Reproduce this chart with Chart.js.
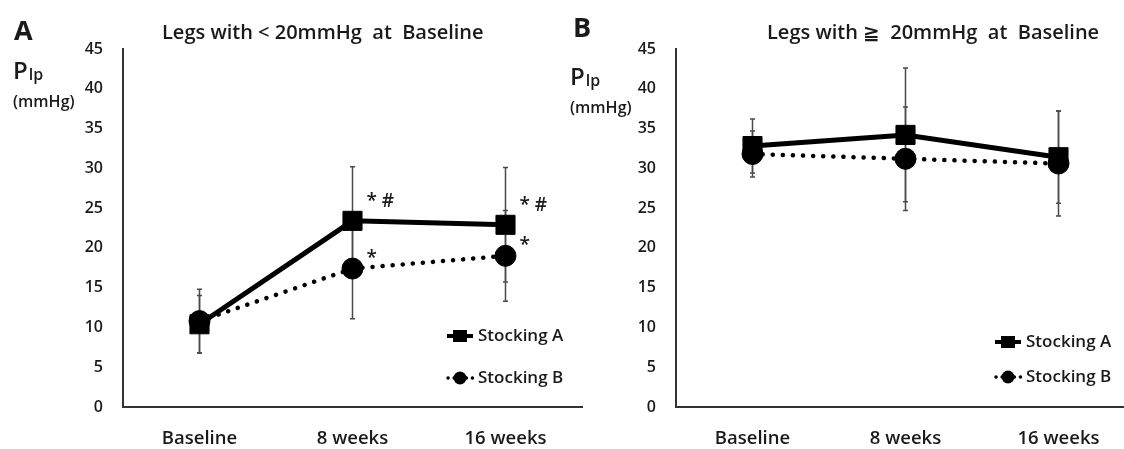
<!DOCTYPE html>
<html>
<head>
<meta charset="utf-8">
<script src="https://cdn.jsdelivr.net/npm/chart.js@4.4.1/dist/chart.umd.min.js"></script>
<style>
  html, body { margin: 0; padding: 0; background: #fff; overflow: hidden; width: 1124px; height: 449px; position: relative; }
  canvas { position: absolute; top: 0; }
  #chartA { left: 0; }
  #chartB { left: 560px; }
</style>
</head>
<body>
<canvas id="chartA" width="600" height="449"></canvas>
<canvas id="chartB" width="600" height="449"></canvas>
<script>
// shared
const categories = ['Baseline', '8 weeks', '16 weeks'];
const yTicks = [0, 5, 10, 15, 20, 25, 30, 35, 40, 45];
const seriesNames = ['Stocking A', 'Stocking B'];

// panel A: legs with < 20mmHg at baseline
const aMeanA = [10.4, 23.4, 22.9];
const aSdA = [3.6, 6.8, 7.2];
const aMeanB = [10.8, 17.4, 19.0];
const aSdB = [4.0, 6.3, 5.7];
const aMarksA = ['', '* #', '* #'];
const aMarksB = ['', '*', '*'];

// panel B: legs with >= 20mmHg at baseline
const bMeanA = [32.8, 34.2, 31.4];
const bSdA = [3.4, 8.4, 5.8];
const bMeanB = [31.8, 31.2, 30.6];
const bSdB = [2.9, 6.5, 6.6];
const bMarksA = ['', '', ''];
const bMarksB = ['', '', ''];

const FONT = '"Open Sans", "Noto Sans", "DejaVu Sans", sans-serif';
const INK = '#1a1a1a';
const W = '600';

function makeDecor(p) {
  return {
    id: 'decor',
    beforeDatasetsDraw(chart) {
      const ctx = chart.ctx, x = chart.scales.x, y = chart.scales.y;
      ctx.save();
      ctx.strokeStyle = '#4a4a4a';
      ctx.lineWidth = 1.5;
      [p.sdA, p.sdB].forEach((sds, di) => {
        const means = chart.data.datasets[di].data;
        sds.forEach((sd, i) => {
          const px = x.getPixelForValue(i);
          const top = y.getPixelForValue(means[i] + sd);
          const bot = y.getPixelForValue(means[i] - sd);
          ctx.beginPath();
          ctx.moveTo(px, top); ctx.lineTo(px, bot);
          ctx.moveTo(px - 2.5, top); ctx.lineTo(px + 2.5, top);
          ctx.moveTo(px - 2.5, bot); ctx.lineTo(px + 2.5, bot);
          ctx.stroke();
        });
      });
      ctx.restore();
    },
    afterDraw(chart) {
      const ctx = chart.ctx, x = chart.scales.x, y = chart.scales.y;
      ctx.save();
      ctx.fillStyle = INK;
      ctx.textBaseline = 'middle';
      ctx.textAlign = 'left';

      // panel letter
      ctx.font = 'bold 27px ' + FONT;
      ctx.fillText(p.letter, p.letterX, p.letterY);

      // title
      ctx.font = W + ' 20px ' + FONT;
      ctx.fillText(p.title, p.titleX, 33);

      // y label P_lp (mmHg)
      ctx.textBaseline = 'alphabetic';
      ctx.font = W + ' 24px ' + FONT;
      ctx.fillText('P', p.pX, p.pY);
      const pw = ctx.measureText('P').width;
      ctx.font = W + ' 16px ' + FONT;
      ctx.fillText('lp', p.pX + pw + 1, p.pY + 1);
      ctx.font = W + ' 16px ' + FONT;
      ctx.textBaseline = 'middle';
      ctx.fillText('(mmHg)', p.pX, p.pY + 23);

      // significance marks
      ctx.font = W + ' 19px ' + FONT;
      [[p.marksA, 0, -19], [p.marksB, 1, -10]].forEach(([marks, di, dy]) => {
        const means = chart.data.datasets[di].data;
        marks.forEach((m, i) => {
          if (!m) return;
          ctx.fillText(m, x.getPixelForValue(i) + 14, y.getPixelForValue(means[i]) + dy);
        });
      });

      // legend
      const lx = p.legX, rows = p.legRows;
      ctx.strokeStyle = '#000';
      ctx.fillStyle = '#000';
      ctx.lineWidth = 4;
      ctx.beginPath();
      ctx.moveTo(lx, rows[0]); ctx.lineTo(lx + 26, rows[0]);
      ctx.stroke();
      ctx.fillRect(lx + 13 - 7, rows[0] - 6, 14, 12);
      ctx.setLineDash([0.1, 6]);
      ctx.lineCap = 'round';
      ctx.lineWidth = 3.5;
      ctx.beginPath();
      ctx.moveTo(lx + 1, rows[1]); ctx.lineTo(lx + 26, rows[1]);
      ctx.stroke();
      ctx.setLineDash([]);
      ctx.beginPath();
      ctx.arc(lx + 13, rows[1], 6.5, 0, Math.PI * 2);
      ctx.fill();
      ctx.fillStyle = INK;
      ctx.font = W + ' 17px ' + FONT;
      ctx.fillText(seriesNames[0], lx + 31, rows[0]);
      ctx.fillText(seriesNames[1], lx + 31, rows[1]);
      ctx.restore();
    }
  };
}

function makeChart(id, p) {
  return new Chart(document.getElementById(id), {
    type: 'line',
    data: {
      labels: categories,
      datasets: [
        {
          label: seriesNames[0],
          data: p.meanA,
          borderColor: '#000',
          backgroundColor: '#000',
          borderWidth: 5,
          pointStyle: 'rect',
          pointRadius: 13.5,
          pointBorderWidth: 1,
          tension: 0
        },
        {
          label: seriesNames[1],
          data: p.meanB,
          borderColor: '#000',
          backgroundColor: '#000',
          borderWidth: 4.5,
          borderDash: [0.1, 10],
          borderCapStyle: 'round',
          pointStyle: 'circle',
          pointRadius: 10.5,
          pointBorderWidth: 1,
          tension: 0
        }
      ]
    },
    options: {
      responsive: false,
      animation: false,
      events: [],
      layout: { padding: { top: 49, right: p.padRight, bottom: 0, left: 0 } },
      plugins: { legend: { display: false }, tooltip: { enabled: false } },
      scales: {
        x: {
          offset: true,
          grid: { display: true, drawOnChartArea: false, drawTicks: false },
          border: { display: true, color: '#333', width: 2 },
          ticks: { color: INK, font: { family: FONT, size: 18.5, weight: W }, padding: 21 },
          afterFit: s => { s.height = 42; }
        },
        y: {
          min: 0,
          max: 45,
          afterBuildTicks: s => { s.ticks = yTicks.map(v => ({ value: v })); },
          grid: { display: true, drawOnChartArea: false, drawTicks: false },
          border: { display: true, color: '#333', width: 2 },
          ticks: { color: INK, font: { family: FONT, size: 16, weight: W }, padding: 20 },
          afterFit: s => { s.width = p.left; }
        }
      }
    },
    plugins: [makeDecor(p)]
  });
}

makeChart('chartA', {
  meanA: aMeanA, meanB: aMeanB, sdA: aSdA, sdB: aSdB, marksA: aMarksA, marksB: aMarksB,
  left: 123, padRight: 18,
  letter: 'A', letterX: 14, letterY: 32,
  title: 'Legs with < 20mmHg  at  Baseline', titleX: 162,
  pX: 13, pY: 79,
  legX: 447, legRows: [336, 378]
});

makeChart('chartB', {
  meanA: bMeanA, meanB: bMeanB, sdA: bSdA, sdB: bSdB, marksA: bMarksA, marksB: bMarksB,
  left: 116, padRight: 25,
  letter: 'B', letterX: 13, letterY: 29,
  title: 'Legs with \u2267  20mmHg  at  Baseline', titleX: 207,
  pX: 10, pY: 85,
  legX: 435, legRows: [342, 377]
});
</script>
</body>
</html>
